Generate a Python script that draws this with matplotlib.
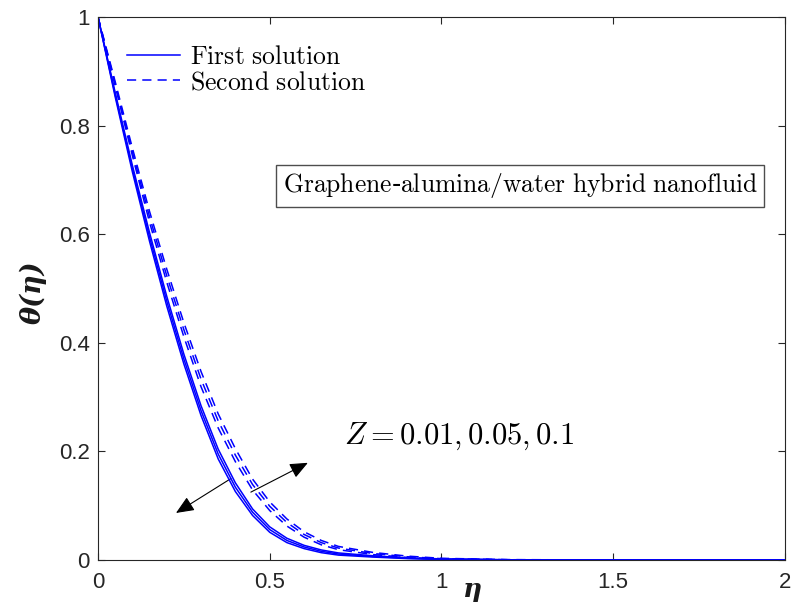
import matplotlib
matplotlib.use("Agg")
import matplotlib.pyplot as plt
from matplotlib.patches import FancyArrowPatch

plt.rcParams['mathtext.fontset'] = 'cm'

# ---- data ----
eta = [0, 0.05, 0.10, 0.15, 0.20, 0.25, 0.30, 0.35, 0.40, 0.45, 0.50,
       0.55, 0.60, 0.65, 0.70, 0.80, 0.90, 1.00, 1.20, 1.50, 2.00]

first_Z001 = [1, 0.861, 0.727, 0.603, 0.486, 0.379, 0.284, 0.204, 0.142, 0.094, 0.061,
              0.040, 0.027, 0.0185, 0.013, 0.0078, 0.0038, 0.0016, 0.0004, 0, 0]
first_Z005 = [1, 0.857, 0.721, 0.595, 0.477, 0.370, 0.275, 0.195, 0.134, 0.088, 0.056,
              0.036, 0.024, 0.016, 0.011, 0.0066, 0.0032, 0.0013, 0.0003, 0, 0]
first_Z010 = [1, 0.853, 0.715, 0.587, 0.468, 0.361, 0.266, 0.186, 0.126, 0.082, 0.051,
              0.032, 0.021, 0.0135, 0.009, 0.0054, 0.0026, 0.0010, 0.0002, 0, 0]

second_Z001 = [1, 0.873, 0.745, 0.622, 0.512, 0.411, 0.319, 0.243, 0.181, 0.129, 0.091,
               0.0625, 0.042, 0.028, 0.019, 0.010, 0.0048, 0.0019, 0.0003, 0, 0]
second_Z005 = [1, 0.877, 0.752, 0.632, 0.524, 0.424, 0.333, 0.256, 0.193, 0.139, 0.099,
               0.069, 0.047, 0.032, 0.022, 0.012, 0.0060, 0.0025, 0.0005, 0, 0]
second_Z010 = [1, 0.881, 0.759, 0.642, 0.536, 0.437, 0.347, 0.269, 0.205, 0.149, 0.107,
               0.0755, 0.052, 0.036, 0.025, 0.014, 0.0072, 0.0031, 0.0007, 0, 0]

first_solutions = [first_Z001, first_Z005, first_Z010]
second_solutions = [second_Z001, second_Z005, second_Z010]

xticks = [0, 0.5, 1, 1.5, 2]
xticklabels = ['0', '0.5', '1', '1.5', '2']
yticks = [0, 0.2, 0.4, 0.6, 0.8, 1]
yticklabels = ['0', '0.2', '0.4', '0.6', '0.8', '1']

# ---- figure ----
fig = plt.figure(figsize=(7.91, 6.06), dpi=100)
ax = fig.add_axes([98/791, 46/606, 687/791, 543/606])

blue = (0, 0, 1)
for i, th in enumerate(first_solutions):
    ax.plot(eta, th, color=blue, lw=1.1, ls='-',
            label=r'$\mathrm{First\ solution}$' if i == 0 else None)
for i, th in enumerate(second_solutions):
    ax.plot(eta, th, color=blue, lw=1.1, ls=(0, (6, 4)),
            label=r'$\mathrm{Second\ solution}$' if i == 0 else None)

ax.set_xlim(0, 2)
ax.set_ylim(0, 1)
ax.set_xticks(xticks)
ax.set_xticklabels(xticklabels)
ax.set_yticks(yticks)
ax.set_yticklabels(yticklabels)
ax.tick_params(direction='in', length=5, width=0.8, colors='0.15',
               labelsize=16, labelcolor='0.15', top=True, right=True)
ax.tick_params(axis='x', pad=9)
ax.tick_params(axis='y', pad=6)
for lab in ax.get_xticklabels() + ax.get_yticklabels():
    lab.set_fontfamily('Liberation Sans')
for s in ax.spines.values():
    s.set_color('0.15')
    s.set_linewidth(0.8)

# axis labels
fig.text(473/791, 16/606, 'η', fontsize=19, fontfamily='DejaVu Serif',
         fontstyle='italic', fontweight='bold', ha='center', va='center', color='0.1')
fig.text(33/791, 1 - 292/606, 'θ(η)', fontsize=19.5, fontfamily='DejaVu Serif',
         fontstyle='italic', fontweight='bold', rotation=90, ha='center', va='center',
         color='0.1')

# legend
leg = ax.legend(loc='upper left', bbox_to_anchor=(0.0277, 0.969), frameon=False,
                fontsize=18.5, handlelength=2.06, handletextpad=0.39,
                labelspacing=-0.03, borderaxespad=0.0, borderpad=0.4)

# text box
ax.text(1.229, 0.689, r'$\mathrm{Graphene}$-$\mathrm{alumina/water\ hybrid\ nanofluid}$',
        fontsize=18.4, ha='center', va='center',
        bbox=dict(boxstyle='square,pad=0.26', fc='white', ec='0.3', lw=1.0))

# Z annotation
ax.text(0.715, 0.227, r'$Z=0.01, 0.05, 0.1$', fontsize=22, ha='left', va='center')

# arrows
arr1 = FancyArrowPatch((0.387, 0.150), (0.227, 0.0866),
                       arrowstyle='-|>,head_length=11,head_width=4.7',
                       color='black', lw=0.8, shrinkA=0, shrinkB=0, mutation_scale=1)
arr2 = FancyArrowPatch((0.445, 0.125), (0.611, 0.179),
                       arrowstyle='-|>,head_length=11,head_width=4.7',
                       color='black', lw=0.8, shrinkA=0, shrinkB=0, mutation_scale=1)
ax.add_patch(arr1)
ax.add_patch(arr2)

fig.savefig('out.png', dpi=100)
